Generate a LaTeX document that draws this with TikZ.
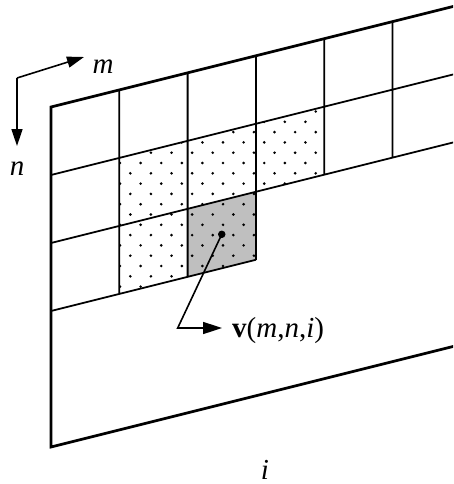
\documentclass[tikz,border=0pt]{standalone}
\usepackage{fontspec}
\setmainfont{Liberation Serif}
\usetikzlibrary{arrows.meta,calc}
\begin{document}
\begin{tikzpicture}[x=1pt,y=-1pt,
  frame/.style={line width=2.7pt, line join=miter},
  gridline/.style={line width=1.8pt},
  conn/.style={line width=1.6pt},
  bigtip/.style={-{Triangle[length=19pt,width=12pt]}},
  smalltip/.style={-{Triangle[length=17pt,width=11pt]}},
  lbl/.style={font=\fontsize{29}{34}\selectfont, inner sep=0pt},
  dot/.style={fill=black}]
\useasboundingbox (0,0) rectangle (453,484);
\clip (0,0) rectangle (453,484);
\foreach \u in {0,...,6}{\foreach \v in {0,...,5}{\coordinate (g\u\v) at ({51+68.3*\u},{107+68*\v-17.075*\u});}}
% grey cell
\fill[gray!50] (g22)--(g32)--(g33)--(g23)--cycle;
% dotted cells
\begin{scope}
\clip (g11)--(g41)--(g42)--(g32)--(g33)--(g13)--cycle;
\foreach \j in {0,...,20}{
  \pgfmathsetmacro\xo{ifthenelse(mod(\j,2)==0,10.3,0)}
  \foreach \k in {0,...,10}{\fill[dot] ({120+\xo+20.6*\k},{90.9+10.3*\j}) circle (1.45);}
}
\end{scope}
% grid
\draw[gridline] (g01)--(g61) (g02)--(g62) (g03)--(g33)
  (g10)--(g13) (g20)--(g23) (g30)--(g33) (g40)--(g42) (g50)--(g52);
% frame
\draw[frame] (g60)--(g00)--(g05)--(g65);
% centre point and pointer
\node (c) [circle, fill=black, inner sep=0pt, minimum size=7.5pt] at ($(g22)!0.5!(g33)$) {};
\node[lbl, anchor=base west] (v) at (232,337) {\textbf{v}(\textit{m},\textit{n},\textit{i})};
\coordinate (bend) at (177.7,328);
\coordinate (vtip) at (222,328);
\draw[conn,bigtip] (c.center)--(bend)--(vtip);
% axes m, n
\coordinate (ax) at (17,78);
\coordinate (mt) at (84,57);
\coordinate (nt) at (17,146);
\draw[conn,smalltip] (ax)--(mt);
\draw[conn,smalltip] (ax)--(nt);
\node[lbl, anchor=base] (m) at (103,74) {\textit{m}};
\node[lbl, anchor=base] (n) at (17,175) {\textit{n}};
\node[lbl, anchor=base] (i) at (265,479) {\textit{i}};
\end{tikzpicture}
\end{document}
